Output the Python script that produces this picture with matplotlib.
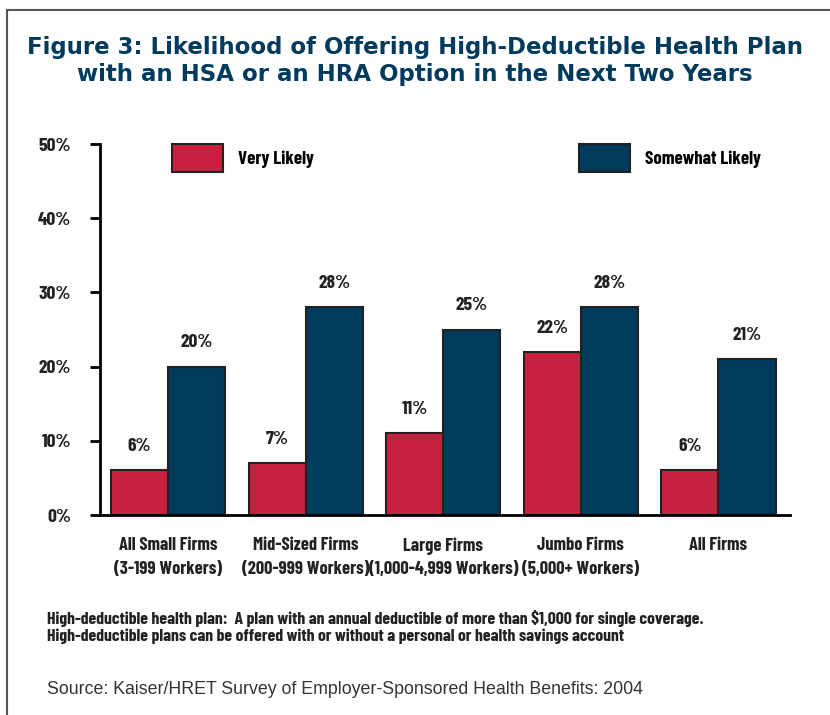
import matplotlib.pyplot as plt
from matplotlib.lines import Line2D
from matplotlib import font_manager

# Dados do gráfico
firmas = ['All Small Firms\n(3-199 Workers)', 'Mid-Sized Firms\n(200-999 Workers)',
          'Large Firms\n(1,000-4,999 Workers)', 'Jumbo Firms\n(5,000+ Workers)', 'All Firms']
muito_provavel = [6, 7, 11, 22, 6]       # Very Likely
algo_provavel = [20, 28, 25, 28, 21]     # Somewhat Likely
yticks = [0, 10, 20, 30, 40, 50]

vermelho = '#C8203F'
azul = '#003A5C'
texto = '#222222'

# fonte condensada (negrito) para rótulos
instaladas = {f.name for f in font_manager.fontManager.ttflist}
narrow = [f for f in ['Barlow Condensed', 'Asap Condensed', 'Roboto Condensed'] if f in instaladas]
narrow = narrow[:1] + ['DejaVu Sans']

fig = plt.figure(figsize=(8.3, 7.15), dpi=100)
ax = fig.add_axes([0.1205, 0.2797, 0.8313, 0.5189])

x = list(range(len(firmas)))
w = 0.415
b1 = ax.bar([i - w / 2 for i in x], muito_provavel, w, color=vermelho,
            edgecolor=texto, linewidth=1.5, label='Very Likely')
b2 = ax.bar([i + w / 2 for i in x], algo_provavel, w, color=azul,
            edgecolor=texto, linewidth=1.5, label='Somewhat Likely')

# Rótulos de valor acima das barras
for barras in (b1, b2):
    for r in barras:
        ax.annotate(f'{r.get_height():.0f}%', (r.get_x() + r.get_width() / 2, r.get_height()),
                    xytext=(0, 17), textcoords='offset points', ha='center', va='center',
                    family=narrow, fontweight='bold', fontsize=14, color=texto)

ax.set_xlim(-0.495, 4.52)
ax.set_ylim(0, 50)
ax.set_yticks(yticks)
ax.set_yticklabels([f'{v}%' for v in yticks], family=narrow, fontweight='bold', fontsize=14,
                   color=texto)
ax.set_xticks(x)
ax.set_xticklabels(firmas, family=narrow, fontweight='bold', fontsize=13.3, color=texto,
                   linespacing=1.5)
ax.tick_params(axis='x', length=0, pad=16)
ax.tick_params(axis='y', length=7, width=2, pad=14, direction='out')
for s in ('top', 'right'):
    ax.spines[s].set_visible(False)
ax.spines['left'].set_linewidth(2)
ax.spines['bottom'].set_linewidth(2)

ax.legend(handles=[b1, b2], loc='upper left', bbox_to_anchor=(0.104, 1.0), ncol=2,
          frameon=False, borderaxespad=0, borderpad=0, handlelength=2.75, handleheight=1.95,
          handletextpad=0.8, columnspacing=14.1,
          prop={'family': narrow, 'weight': 'bold', 'size': 13.5})

# Título
fig.text(0.5, 1 - 61 / 715, 'Figure 3: Likelihood of Offering High-Deductible Health Plan\n'
         'with an HSA or an HRA Option in the Next Two Years',
         ha='center', va='center', fontsize=16.5, fontweight='bold', color=azul,
         family='DejaVu Sans', linespacing=1.2)

# Notas
fig.text(47 / 830, 1 - 627 / 715,
         'High-deductible health plan:  A plan with an annual deductible of more than $1,000 for single coverage.\n'
         'High-deductible plans can be offered with or without a personal or health savings account',
         ha='left', va='center', family=narrow, fontweight='bold', fontsize=12.75, color=texto,
         linespacing=1.05)
fig.text(47 / 830, 1 - 690 / 715, 'Source: Kaiser/HRET Survey of Employer-Sponsored Health Benefits: 2004',
         ha='left', va='center', family=['Liberation Sans', 'DejaVu Sans'], fontsize=12.75,
         color='#333333')

# Moldura
fig.add_artist(Line2D([7 / 830, 7 / 830], [0, 1 - 10 / 715], color='#555555', lw=1.5))
fig.add_artist(Line2D([7 / 830, 1], [1 - 10 / 715, 1 - 10 / 715], color='#555555', lw=1.5))

fig.savefig('out.png', dpi=100)
